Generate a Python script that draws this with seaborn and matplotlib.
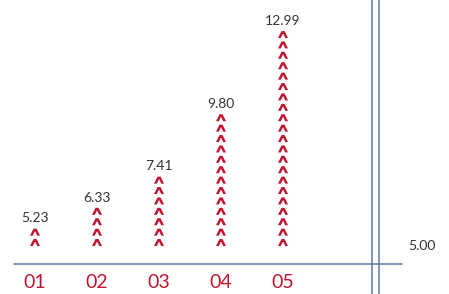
import numpy as np
import pandas as pd
import seaborn as sns
import matplotlib.pyplot as plt
from matplotlib.path import Path

# données
categories = ["01", "02", "03", "04", "05"]
values = [5.23, 6.33, 7.41, 9.80, 12.99]
counts = [2, 4, 7, 13, 21]  # nombre de chevrons par colonne
base_value = 5.00

red = "#c0152f"
line_col = "#5b7aa5"
text_col = "#333333"

sns.set_style("white")
plt.rcParams["font.family"] = ["Lato", "DejaVu Sans"]

# une ligne par chevron
rows = []
for i, (cat, n) in enumerate(zip(categories, counts)):
    for k in range(n):
        rows.append({"pos": i, "level": k, "cat": cat})
df = pd.DataFrame(rows)

# chevron plein (forme "^" épaisse)
chevron = Path([(-1.0, -0.6), (-0.3, 0.8), (0.3, 0.8), (1.0, -0.6), (0.45, -0.6),
                (0.0, 0.3), (-0.45, -0.6), (-1.0, -0.6)], closed=True)

fig = plt.figure(figsize=(4.49, 2.94), dpi=100)
ax = fig.add_axes([0, 0, 1, 1])

sns.scatterplot(data=df, x="pos", y="level", marker=chevron, s=52,
                color=red, edgecolor="none", linewidth=0, legend=False, ax=ax)

# valeurs au-dessus de chaque colonne
for i, (v, n) in enumerate(zip(values, counts)):
    ax.text(i, n - 1 + 0.8, f"{v:.2f}", ha="center", va="bottom",
            fontsize=10, color=text_col)

# ligne de base et double ligne verticale
ax.plot([-0.34, 5.92], [-2.02, -2.02], color=line_col, lw=1.1)
ax.axvline(5.435, color=line_col, lw=1.1)
ax.axvline(5.548, color=line_col, lw=1.1)
ax.text(6.02, -0.25, f"{base_value:.2f}", ha="left", va="center",
        fontsize=10, color=text_col)

# étiquettes des catégories
for i, cat in enumerate(categories):
    ax.text(i, -3.8, cat, ha="center", va="center", fontsize=14, color=red)

ax.set_xlim(-0.565, 6.677)
ax.set_ylim(-4.9, 23.37)
ax.set_xlabel("")
ax.set_ylabel("")
ax.set_xticks([])
ax.set_yticks([])
sns.despine(ax=ax, left=True, bottom=True)

fig.savefig("out.png", dpi=100)
